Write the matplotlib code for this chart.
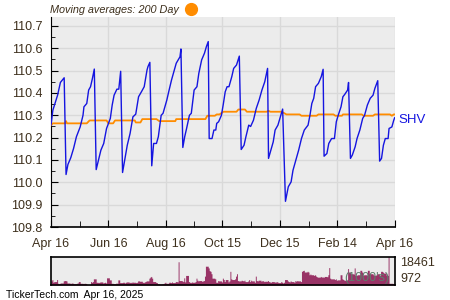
import pandas as pd
import matplotlib
matplotlib.use("Agg")
import matplotlib.pyplot as plt
import matplotlib.dates as mdates
from matplotlib.lines import Line2D

plt.rcParams['font.family'] = ['Liberation Sans', 'DejaVu Sans']

start = pd.Timestamp('2024-04-16')
end = pd.Timestamp('2025-04-16')

# SHV closing price: days after start, value
price_day = [0, 2, 7, 10, 14,
             16, 18, 21, 24, 27, 31, 34, 35, 38, 40, 42, 44, 46,
             48, 50, 53, 56, 59, 63, 65, 67, 70, 72, 74,
             76, 78, 81, 84, 87, 90, 93, 96, 99, 102, 103, 105,
             107, 109, 112, 114, 117, 119, 123, 125, 128, 131, 133, 137, 138,
             140, 142, 144, 147, 149, 152, 155, 157, 160, 163, 165, 167,
             168, 171, 173, 175, 176, 178, 181, 183, 185, 187, 189, 192, 194, 197, 200,
             202, 205, 207, 210, 212, 215, 218, 221, 224, 227, 230,
             231, 233, 236, 238, 241, 244, 246,
             249, 252, 255, 257, 260, 263, 266, 269, 273, 275, 277, 279, 281, 284, 287, 289,
             290, 293, 295, 298, 301, 303, 305, 308, 310, 312, 315, 316,
             318, 320, 323, 325, 328, 331, 333, 336, 339, 342, 344, 347,
             349, 351, 353, 355, 358, 359, 362, 364, 365]
price = [110.256, 110.323, 110.39, 110.447, 110.468,
         110.035, 110.08, 110.11, 110.152, 110.204, 110.248, 110.30, 110.338, 110.353, 110.413, 110.428, 110.465, 110.507,
         110.057, 110.092, 110.144, 110.174, 110.241, 110.286, 110.346, 110.39, 110.417, 110.417, 110.497,
         110.044, 110.092, 110.166, 110.219, 110.293, 110.305, 110.383, 110.405, 110.428, 110.503, 110.518, 110.537,
         110.074, 110.174, 110.174, 110.204, 110.30, 110.309, 110.368, 110.405, 110.458, 110.503, 110.533, 110.562, 110.597,
         110.156, 110.204, 110.241, 110.30, 110.309, 110.413, 110.428, 110.488, 110.548, 110.578, 110.607, 110.63,
         110.196, 110.196, 110.234, 110.234, 110.264, 110.271, 110.30, 110.35, 110.405, 110.428, 110.428, 110.473, 110.51, 110.525, 110.565,
         110.147, 110.166, 110.204, 110.256, 110.25, 110.278, 110.331, 110.368, 110.413, 110.45, 110.51,
         110.107, 110.137, 110.181, 110.234, 110.256, 110.30, 110.328,
         109.915, 109.98, 110.002, 110.054, 110.099, 110.144, 110.196, 110.234, 110.256, 110.30, 110.353, 110.376, 110.428, 110.443, 110.473, 110.506,
         110.117, 110.129, 110.174, 110.196, 110.196, 110.271, 110.30, 110.338, 110.383, 110.394, 110.413, 110.447,
         110.107, 110.122, 110.159, 110.196, 110.234, 110.286, 110.30, 110.346, 110.376, 110.39, 110.421, 110.455,
         110.095, 110.107, 110.166, 110.196, 110.196, 110.241, 110.248, 110.278, 110.289]

# 200 day moving average
ma_day = [0, 2, 15, 16, 17, 38, 41, 59, 61, 66, 68, 89, 90, 95, 97, 112, 115, 132, 133,
          164, 166, 174, 176, 179, 183, 197, 199, 206, 208, 229, 231, 233, 245, 250,
          264, 266, 282, 284, 300, 302, 309, 310, 330, 332, 342, 344, 360, 362, 364, 365]
ma = [110.256, 110.264, 110.264, 110.274, 110.264, 110.264, 110.277, 110.277, 110.264, 110.264,
      110.277, 110.277, 110.268, 110.268, 110.283, 110.283, 110.274, 110.274, 110.283,
      110.283, 110.298, 110.298, 110.304, 110.304, 110.316, 110.316, 110.326, 110.326, 110.316,
      110.316, 110.32, 110.316, 110.316, 110.304, 110.304, 110.298, 110.298, 110.304, 110.304,
      110.298, 110.298, 110.304, 110.304, 110.298, 110.298, 110.304, 110.304, 110.298, 110.304, 110.304]

# daily volume (1000's), one per business day from the start
volume = [3320, 4170, 2460, 2890, 4170,
          1820, 1610, 1820, 2030, 3320,
          3530, 3530, 3320, 2030, 1820,
          1820, 2030, 1820, 1610, 1820,
          2030, 2890, 2890, 1820, 1610,
          1820, 1820, 1610, 972, 1180,
          2890, 2460, 2890, 4600, 2460,
          2460, 2250, 2460, 2680, 2030,
          2250, 2460, 2030, 5240, 3960,
          3960, 1820, 1820, 1610, 2030,
          1820, 3960, 3960, 2250, 2460,
          2460, 2030, 2460, 2680, 2250,
          2460, 2250, 2680, 2460, 2250,
          2460, 3320, 3320, 3100, 2460,
          2250, 2680, 2890, 3320, 5030,
          5670, 6100, 5030, 2890, 2460,
          2250, 1610, 1610, 1390, 1610,
          1610, 2030, 2460, 1820, 2460,
          2460, 2250, 2680, 2250, 2890,
          2890, 2680, 15300, 3530, 3320,
          2890, 5240, 2680, 6740, 2890,
          2460, 2250, 2680, 2460, 2890,
          5030, 3750, 3320, 3530, 3100,
          3320, 3530, 6310, 12520, 11450,
          9740, 9310, 7810, 5030, 4600,
          2460, 2460, 3530, 3320, 2680,
          5030, 4170, 2890, 4170, 2680,
          3320, 9310, 4600, 4170, 4600,
          6310, 7810, 3530, 3320, 3750,
          3530, 3320, 3750, 2890, 3320,
          4170, 2890, 3750, 3320, 2460,
          6310, 3530, 3320, 3750, 3100,
          3530, 3320, 2890, 3100, 3530,
          2890, 2680, 2460, 2890, 2680,
          2460, 2890, 2680, 2250, 2890,
          2460, 2030, 2460, 4170, 3320,
          2890, 2680, 3320, 2890, 2460,
          3530, 3100, 3530, 3320, 2890,
          9310, 9740, 9950, 8880, 9310,
          8880, 7170, 7600, 7170, 6740,
          7170, 6310, 5890, 5670, 6100,
          5670, 5890, 5460, 6100, 5890,
          7170, 11660, 5030, 4600, 4600,
          4170, 4600, 3750, 3960, 7170,
          7170, 4600, 4170, 3750, 3960,
          11020, 8880, 8880, 7810, 7600,
          11450, 6740, 6740, 7170, 9950,
          9950, 8880, 6740, 7170, 6960,
          9950, 9950, 7810, 7810, 7170,
          6740, 6740, 7170, 7810, 6740,
          9310, 9310, 8880, 8240, 6740,
          6740, 18461, 1820, 1820, 1610,
          1610, 1820]

tick_dates = ['2024-04-16', '2024-06-16', '2024-08-16', '2024-10-15',
              '2024-12-15', '2025-02-14', '2025-04-16']
tick_labels = ['Apr 16', 'Jun 16', 'Aug 16', 'Oct 15', 'Dec 15', 'Feb 14', 'Apr 16']

price_dates = start + pd.to_timedelta(price_day, unit='D')
ma_dates = start + pd.to_timedelta(ma_day, unit='D')
vol_dates = pd.bdate_range(start, periods=len(volume))

text_col = '#3d2f1c'
bg = '#ececec'

fig = plt.figure(figsize=(4.5, 3), dpi=100)
ax = fig.add_axes([0.1133, 0.2433, 0.7638, 0.70])
ax.set_facecolor(bg)
ax.plot(ma_dates, ma, color='#ff8c00', lw=1.3, zorder=3)
ax.plot(price_dates, price, color='#1515e0', lw=1.0, zorder=4)

ax.set_xlim(start, end)
ax.set_ylim(109.8, 110.74)
ax.set_yticks([109.8, 109.9, 110.0, 110.1, 110.2, 110.3, 110.4, 110.5, 110.6, 110.7])
ax.set_yticks([109.85, 109.95, 110.05, 110.15, 110.25, 110.35, 110.45, 110.55, 110.65], minor=True)
major_x = mdates.date2num(pd.to_datetime(tick_dates))
ax.set_xticks(major_x)
ax.set_xticklabels(tick_labels)
ax.set_xticks((major_x[:-1] + major_x[1:]) / 2, minor=True)
ax.grid(True, which='major', color='#d9d9d9', lw=1.0)
ax.set_axisbelow(True)
for s in ['top', 'right']:
    ax.spines[s].set_visible(False)
ax.spines['left'].set_color('black')
ax.spines['bottom'].set_color('black')
ax.spines['bottom'].set_linewidth(1.2)
ax.tick_params(axis='both', which='both', direction='in', colors='black',
               labelcolor=text_col, labelsize=9)
ax.tick_params(axis='y', which='major', length=5, pad=6)
ax.tick_params(axis='y', which='minor', length=3)
ax.tick_params(axis='x', which='major', length=5, pad=8)
ax.tick_params(axis='x', which='minor', length=4)

ax.text(1.01, 110.28, 'SHV', transform=ax.get_yaxis_transform(), color='#1515e0',
        fontsize=9.5, va='center', ha='left')

fig.text(0.111, 0.967, 'Moving averages: 200 Day', style='italic', color=text_col,
         fontsize=7.8, ha='left', va='center')
fig.add_artist(Line2D([0.424], [0.97], marker='o', markersize=8.5, color='#ff8c00',
                      linestyle='none', transform=fig.transFigure))

vax = fig.add_axes([0.1133, 0.05, 0.7638, 0.0943])
vax.set_facecolor(bg)
vax.fill_between(vol_dates, volume, 750, step='post', color='#993366', linewidth=0)
vax.set_xlim(start, end)
vax.set_ylim(750, 18461)
vax.set_xticks([])
vax.yaxis.tick_right()
vax.set_yticks([972, 18461])
vax.set_yticklabels(['972', '18461'])
vax.tick_params(axis='y', length=0, pad=4, labelcolor=text_col, labelsize=9)
vax.get_yticklabels()[1].set_va('top')
vax.get_yticklabels()[0].set_va('bottom')
for s in vax.spines.values():
    s.set_color('black')
    s.set_linewidth(1.2)
vax.text(0.985, 0.02, "(1000's)", transform=vax.transAxes, ha='right', va='bottom',
         color='#5e7d6c', fontsize=9)

fig.text(0.013, 0.017, 'TickerTech.com  Apr 16, 2025', color='black', fontsize=7.5,
         ha='left', va='center')

fig.savefig('out.png', dpi=100)
